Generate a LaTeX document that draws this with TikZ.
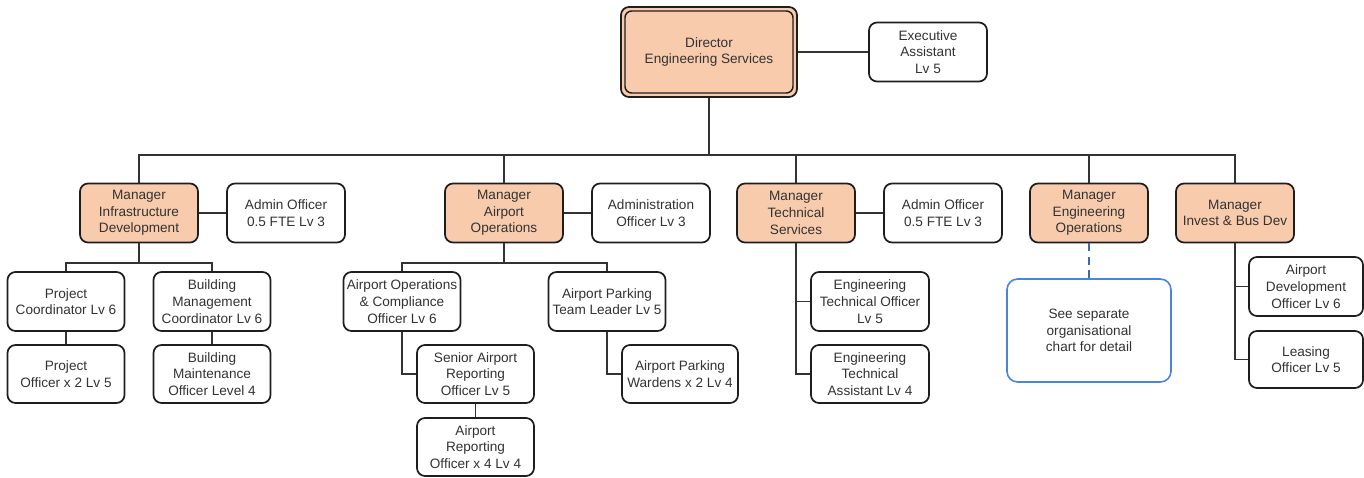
\documentclass[tikz,border=0pt]{standalone}
\usepackage{fontspec}
\setmainfont{Liberation Sans}
\definecolor{peach}{HTML}{F8CBAD}
\definecolor{edge}{HTML}{1E1E1E}
\definecolor{wire}{HTML}{333333}
\definecolor{txt}{HTML}{333333}
\definecolor{linkblue}{HTML}{4A86D8}
\begin{document}
\begin{tikzpicture}[x=0.75pt,y=-0.75pt,
  card/.style={draw=edge, line width=1.3pt, rounded corners=6pt, fill=white,
    align=center, inner sep=0pt, text=txt,
    font=\fontsize{10.2}{12.5}\selectfont},
  mgr/.style={card, fill=peach},
  conn/.style={draw=wire, line width=0.8pt},
  note/.style={card, draw=linkblue, line width=1.2pt, rounded corners=8pt}]
\useasboundingbox (0,0) rectangle (1364,478);

% Director with its double border
\node[mgr, minimum width=176*0.75pt, minimum height=90*0.75pt] (dir) at (709,52) {Director\\Engineering Services};
\draw[edge, line width=1.1pt, rounded corners=5pt] (625,11) rectangle (793,93);
\node[card, minimum width=118*0.75pt, minimum height=59*0.75pt] (ea) at (928,52) {Executive\\Assistant\\Lv 5};

% Managers and their admin officers
\node[mgr, minimum width=118*0.75pt, minimum height=59*0.75pt] (infra) at (139,213) {Manager\\Infrastructure\\Development};
\node[card, minimum width=118*0.75pt, minimum height=59*0.75pt] (adm1) at (286,213) {Admin Officer\\0.5 FTE Lv 3};
\node[mgr, minimum width=118*0.75pt, minimum height=59*0.75pt] (airops) at (504,213) {Manager\\Airport\\Operations};
\node[card, minimum width=118*0.75pt, minimum height=59*0.75pt] (adm2) at (651,213) {Administration\\Officer Lv 3};
\node[mgr, minimum width=118*0.75pt, minimum height=59*0.75pt] (tech) at (796,213) {Manager\\Technical\\Services};
\node[card, minimum width=118*0.75pt, minimum height=59*0.75pt] (adm3) at (943,213) {Admin Officer\\0.5 FTE Lv 3};
\node[mgr, minimum width=118*0.75pt, minimum height=59*0.75pt] (engops) at (1089,213) {Manager\\Engineering\\Operations};
\node[mgr, minimum width=118*0.75pt, minimum height=59*0.75pt] (invest) at (1235,213) {Manager\\Invest \& Bus Dev};

% Infrastructure team
\node[card, minimum width=117*0.75pt, minimum height=59*0.75pt] (projc) at (66,301.5) {Project\\Coordinator Lv 6};
\node[card, minimum width=117*0.75pt, minimum height=59*0.75pt] (bmc) at (212,301.5) {Building\\Management\\Coordinator Lv 6};
\node[card, minimum width=117*0.75pt, minimum height=58*0.75pt] (projo) at (66,374) {Project\\Officer x 2 Lv 5};
\node[card, minimum width=117*0.75pt, minimum height=58*0.75pt] (bmo) at (212,374) {Building\\Maintenance\\Officer Level 4};

% Airport operations team
\node[card, minimum width=117*0.75pt, minimum height=59*0.75pt] (aoc) at (402,301.5) {Airport Operations\\\& Compliance\\Officer Lv 6};
\node[card, minimum width=117*0.75pt, minimum height=59*0.75pt] (ptl) at (607,301.5) {Airport Parking\\Team Leader Lv 5};
\node[card, minimum width=117*0.75pt, minimum height=58*0.75pt] (sar) at (475.5,374) {Senior Airport\\Reporting\\Officer Lv 5};
\node[card, minimum width=117*0.75pt, minimum height=58*0.75pt] (aro) at (475.5,447) {Airport\\Reporting\\Officer x 4 Lv 4};
\node[card, minimum width=116*0.75pt, minimum height=58*0.75pt] (apw) at (680,374) {Airport Parking\\Wardens x 2 Lv 4};

% Technical services team
\node[card, minimum width=118*0.75pt, minimum height=59*0.75pt] (eto) at (870,301.5) {Engineering\\Technical Officer\\Lv 5};
\node[card, minimum width=118*0.75pt, minimum height=58*0.75pt] (eta) at (870,374) {Engineering\\Technical\\Assistant Lv 4};

% Engineering operations pointer
\node[note, minimum width=164*0.75pt, minimum height=103*0.75pt] (sep) at (1089,330.5) {See separate\\organisational\\chart for detail};

% Invest and business development team
\node[card, minimum width=114*0.75pt, minimum height=59*0.75pt] (ado) at (1306,286.5) {Airport\\Development\\Officer Lv 6};
\node[card, minimum width=114*0.75pt, minimum height=57*0.75pt] (leas) at (1306,359.5) {Leasing\\Officer Lv 5};

% Connectors
\coordinate (hub) at (709,155);
\draw[conn] (dir.east) -- (ea.west);
\draw[conn] (dir.south) -- (hub);
\draw[conn] (infra.north) |- (hub) -| (invest.north);
\foreach \m in {airops,tech,engops}
  \draw[conn] (\m.north) -- (\m.north |- hub);
\draw[conn] (infra.east) -- (adm1.west);
\draw[conn] (airops.east) -- (adm2.west);
\draw[conn] (tech.east) -- (adm3.west);

\coordinate (infraJ) at (139,263);
\draw[conn] (infra.south) -- (infraJ);
\draw[conn] (projc.north) |- (infraJ) -| (bmc.north);
\draw[conn] (projc.south) -- (projo.north);
\draw[conn] (bmc.south) -- (bmo.north);

\coordinate (opsJ) at (504,263);
\draw[conn] (airops.south) -- (opsJ);
\draw[conn] (aoc.north) |- (opsJ) -| (ptl.north);
\draw[conn] (aoc.south) |- (sar.west);
\draw[conn] (sar.south) -- (aro.north);
\draw[conn] (ptl.south) |- (apw.west);

\draw[conn] (tech.south) |- (eto.west);
\draw[conn] (tech.south) |- (eta.west);

\draw[conn, draw=linkblue!80!black, dash pattern=on 6pt off 4pt] (engops.south) -- (sep.north);

\draw[conn] (invest.south) |- (ado.west);
\draw[conn] (invest.south) |- (leas.west);
\end{tikzpicture}
\end{document}
